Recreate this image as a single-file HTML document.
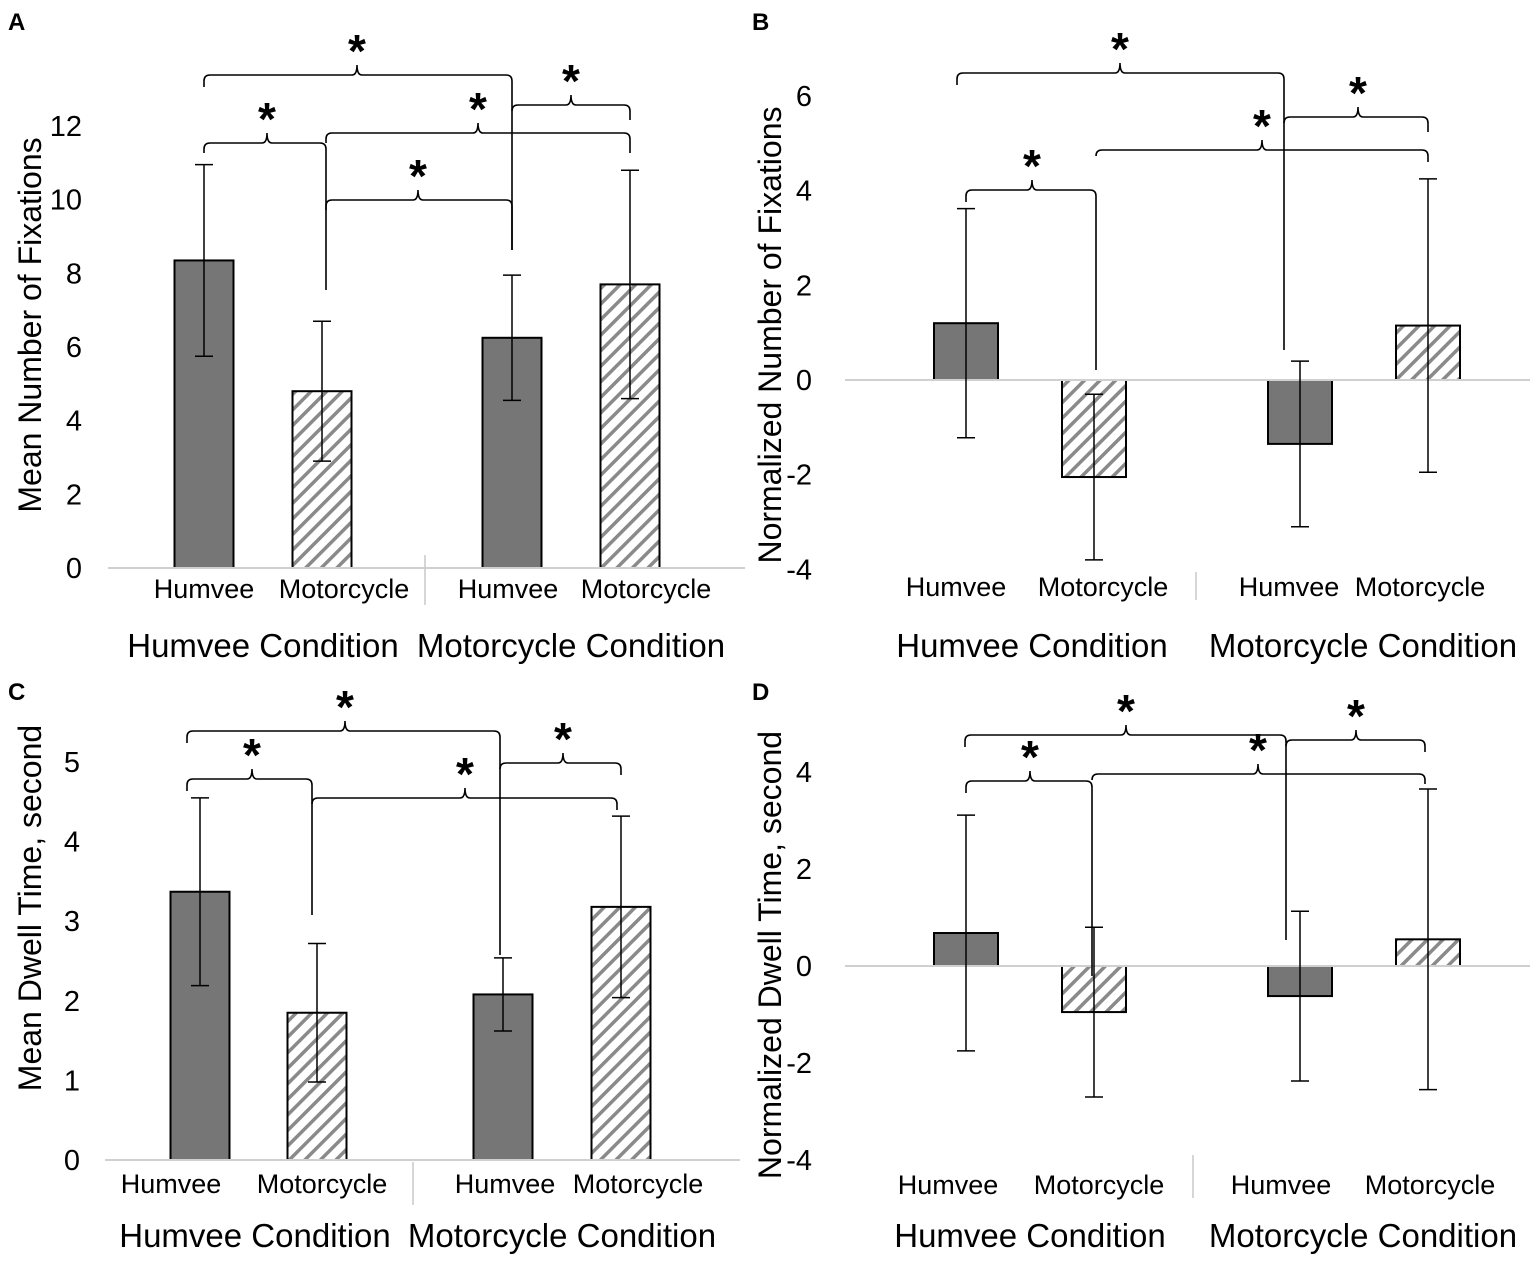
<!DOCTYPE html>
<html><head><meta charset="utf-8"><style>
body{margin:0;background:#fff;}
svg{display:block;font-family:"Liberation Sans",Arial,sans-serif;}
</style></head><body>
<svg id="fig" width="1535" height="1262" viewBox="0 0 1535 1262" xmlns="http://www.w3.org/2000/svg">
<defs>
<pattern id="hatch" patternUnits="userSpaceOnUse" width="11" height="11" patternTransform="rotate(45)">
<rect width="11" height="11" fill="#fff"/>
<rect x="0" y="0" width="3.5" height="11" fill="#8a8a8a"/>
</pattern>
</defs>
</svg>
<script>
// ---- data ----
const categories = ["Humvee","Motorcycle","Humvee","Motorcycle"];
const groupLabels = ["Humvee Condition","Motorcycle Condition"];
const valuesA = [8.35, 4.8, 6.25, 7.7];
const errorsA = [2.6, 1.9, 1.7, 3.1];
const ticksA = [0,2,4,6,8,10,12];
const valuesB = [1.2, -2.05, -1.35, 1.15];
const errorsB = [2.42, 1.75, 1.75, 3.1];
const ticksB = [-4,-2,0,2,4,6];
const valuesC = [3.37, 1.85, 2.08, 3.18];
const errorsC = [1.18, 0.87, 0.46, 1.14];
const ticksC = [0,1,2,3,4,5];
const valuesD = [0.68, -0.95, -0.62, 0.55];
const errorsD = [2.43, 1.75, 1.75, 3.1];
const ticksD = [-4,-2,0,2,4];

const NS="http://www.w3.org/2000/svg";
const svg=document.getElementById('fig');
function el(tag,attrs,parent){const e=document.createElementNS(NS,tag);for(const k in attrs)e.setAttribute(k,attrs[k]);(parent||svg).appendChild(e);return e;}
function txt(s,attrs,parent){const e=el('text',attrs,parent);e.textContent=s;return e;}

const panels=[
 {id:'a',letter:'A',lx:8,ly:30,title:'Mean Number of Fixations',tx:30,ty:325,vals:valuesA,errs:errorsA,ticks:ticksA,y0:568,y1:126,v1:12,tickX:82,base:[108,745],
  centers:[204,322,512,630],bw:59,labX:[204,344,508,646],labY:598,sep:[425,555,605],condX:[263,571],condY:657,
  brackets:[[204,512,75,12,175,357],[204,326,143,10,147,267],[326,512,200,10,50,418],[326,630,133,10,20,478],[512,630,105,0,15,571]]},
 {id:'b',letter:'B',lx:752,ly:30,title:'Normalized Number of Fixations',tx:770,ty:335,vals:valuesB,errs:errorsB,ticks:ticksB,y0:380,y1:96,v1:6,tickX:812,base:[845,1530],
  centers:[966,1094,1300,1428],bw:64,labX:[956,1103,1289,1420],labY:596,sep:[1196,572,600],condX:[1032,1363],condY:657,
  brackets:[[957,1284,73,12,277,1120],[966,1096,190,12,180,1032],[1096,1428,150,0,12,1262],[1284,1428,117,0,15,1358]]},
 {id:'c',letter:'C',lx:8,ly:700,title:'Mean Dwell Time, second',tx:30,ty:908,vals:valuesC,errs:errorsC,ticks:ticksC,y0:1160,y1:762,v1:5,tickX:80,base:[105,740],
  centers:[200,317,503,621],bw:59,labX:[171,322,505,638],labY:1193,sep:[413,1162,1205],condX:[255,562],condY:1247,
  brackets:[[187,500,731,12,224,345],[187,312,779,12,136,252],[312,617,798,0,12,465],[500,621,763,0,12,563]]},
 {id:'d',letter:'D',lx:752,ly:700,title:'Normalized Dwell Time, second',tx:770,ty:955,vals:valuesD,errs:errorsD,ticks:ticksD,y0:966,y1:772,v1:4,tickX:812,base:[845,1530],
  centers:[966,1094,1300,1428],bw:64,labX:[948,1099,1281,1430],labY:1194,sep:[1193,1155,1198],condX:[1030,1363],condY:1247,
  brackets:[[965,1286,735,12,205,1126],[966,1092,781,12,195,1030],[1092,1425,774,0,10,1258],[1286,1425,740,0,12,1356]]}
];

function bracket(g,b){
  const [x1,x2,y,d1,d2,m]=b;
  const r=6;
  let d=`M${x1},${y+Math.max(d1,r)} L${x1},${y+r} Q${x1},${y} ${x1+r},${y} L${m-5},${y} Q${m},${y} ${m},${y-10} Q${m},${y} ${m+5},${y} L${x2-r},${y} Q${x2},${y} ${x2},${y+r} L${x2},${y+Math.max(d2,r)}`;
  const p=el('path',{d:d,fill:'none',stroke:'#000','stroke-width':1.6},g);
  
  
  const s=txt('*',{x:m,y:y-8,'font-size':46,'font-weight':'bold','text-anchor':'middle'},g);
  
  
}

panels.forEach(P=>{
  const g=el('g',{});
  
  
  const sc=v=>P.y0-(v/P.v1)*(P.y0-P.y1);
  const L=txt(P.letter,{x:P.lx,y:P.ly,'font-size':24,'font-weight':'bold'},g);
  
  
  const T=txt(P.title,{x:P.tx,y:P.ty,'font-size':32,'text-anchor':'middle',transform:`rotate(-90 ${P.tx} ${P.ty})`,dy:'0.35em'},g);
  
  
  P.ticks.forEach(t=>{
    const tl=txt(String(t),{x:P.tickX,y:sc(t)+10,'font-size':29,'text-anchor':'end'},g);
    
    
  });
  P.vals.forEach((v,i)=>{
    const c=P.centers[i];
    const top=Math.min(sc(v),sc(0)), h=Math.abs(sc(v)-sc(0));
    const r=el('rect',{x:c-P.bw/2,y:top,width:P.bw,height:h,fill:i%2===0?'#767676':'url(#hatch)',stroke:'#000','stroke-width':2},g);
    
    
  });
  const bl=el('line',{x1:P.base[0],x2:P.base[1],y1:sc(0),y2:sc(0),stroke:'#d0d0d0','stroke-width':2},g);
  
  
  P.vals.forEach((v,i)=>{
    const c=P.centers[i], e=P.errs[i];
    const eg=el('g',{stroke:'#000','stroke-width':1.5},g);
    
    
    el('line',{x1:c,x2:c,y1:sc(v+e),y2:sc(v-e)},eg);
    el('line',{x1:c-9,x2:c+9,y1:sc(v+e),y2:sc(v+e)},eg);
    el('line',{x1:c-9,x2:c+9,y1:sc(v-e),y2:sc(v-e)},eg);
  });
  const sp=el('line',{x1:P.sep[0],x2:P.sep[0],y1:P.sep[1],y2:P.sep[2],stroke:'#c8c8c8','stroke-width':1.5},g);
  
  
  categories.forEach((c,i)=>{
    const t=txt(c,{x:P.labX[i],y:P.labY,'font-size':27,'text-anchor':'middle'},g);
    
    
  });
  groupLabels.forEach((c,i)=>{
    const t=txt(c,{x:P.condX[i],y:P.condY,'font-size':33,'text-anchor':'middle'},g);
    
    
  });
  P.brackets.forEach(b=>bracket(g,b));
});
</script>
</body></html>
